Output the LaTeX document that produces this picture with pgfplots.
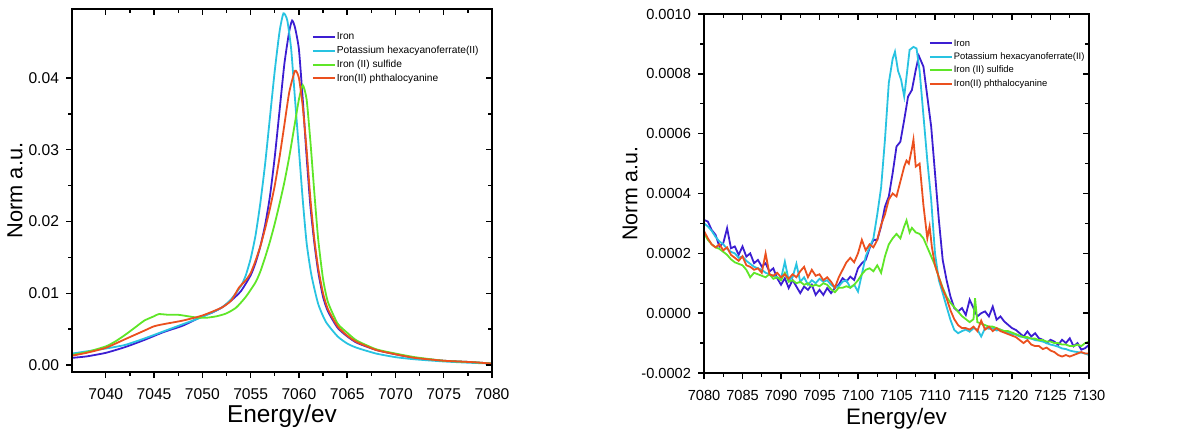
\documentclass[border=0pt]{standalone}
\usepackage{fontspec}
\setmainfont{Liberation Sans}
\usepackage{pgfplots}
\pgfplotsset{compat=1.18}
\definecolor{cIron}{RGB}{60,30,210}
\definecolor{cPot}{RGB}{40,195,225}
\definecolor{cFeS}{RGB}{95,230,40}
\definecolor{cPc}{RGB}{235,80,30}
\pgfplotsset{
  base/.style={
    scale only axis,
    scaled ticks=false,
    axis line style={line width=0.8pt},
    every tick/.style={black, line width=0.7pt},
    major tick length=3pt, minor tick length=1.8pt,
    minor tick num=1,
  },
  main/.style={
    base,
    tick align=outside, xtick pos=left, ytick pos=left,
    /pgf/number format/assume math mode=true,
    legend style={draw=none, fill=none, inner sep=0pt, outer sep=0pt, anchor=north west,
      row sep=0.75pt, nodes={inner sep=0.5pt, text height=3.9pt, text depth=1.2pt}},
    legend cell align=left,
    legend image code/.code={\draw[#1, line width=1pt] (0pt,0pt) -- (11pt,0pt);},
    every axis plot/.append style={line width=0.9pt},
  },
  mirror/.style={
    base,
    tick align=inside, xtick pos=right, ytick pos=right,
    xticklabels={}, yticklabels={},
  },
}
\begin{document}
\begin{tikzpicture}
\path[use as bounding box] (0,0) rectangle (602pt,217pt);
% ---------------- left panel ----------------
\begin{axis}[main, at={(36pt,31pt)}, anchor=south west, width=210pt, height=181.5pt,
  xmin=7036.5, xmax=7080, ymin=-0.00097, ymax=0.0496,
  xtick={7040,7045,...,7080}, xticklabels={7040,7045,7050,7055,7060,7065,7070,7075,7080},
  ytick={0,0.01,0.02,0.03,0.04}, yticklabels={0.00,0.01,0.02,0.03,0.04},
  tick label style={font=\fontsize{7.8}{9}\selectfont},
  xticklabel style={yshift=-2pt},
  xlabel={Energy/ev}, ylabel={Norm a.u.},
  xlabel style={font=\fontsize{12.2}{14}\selectfont, at={(axis description cs:0.5,-0.122)}, anchor=center},
  ylabel style={font=\fontsize{10.9}{13}\selectfont, at={(axis description cs:-0.136,0.5)}, anchor=center},
  legend style={at={(0.571,0.939)}, font=\fontsize{5.1}{6}\selectfont, row sep=0.75pt},
]
\addplot[cIron, smooth, tension=0.35] table {
x y
7036.5 0.0010
7038 0.0012
7040 0.0017
7042 0.0025
7044 0.0035
7046 0.0046
7048 0.0055
7050 0.0068
7051 0.0073
7052 0.0080
7053 0.0090
7054 0.0103
7055 0.0125
7055.5 0.0142
7056 0.0165
7056.5 0.0195
7057 0.0235
7057.5 0.0290
7058 0.0355
7058.5 0.0420
7059 0.0465
7059.3 0.0480
7059.6 0.0470
7060 0.0440
7060.4 0.0370
7060.8 0.0290
7061.2 0.0220
7061.6 0.0170
7062 0.0130
7062.5 0.0095
7063 0.0075
7064 0.0052
7065 0.0040
7066 0.0031
7068 0.0021
7070 0.0015
7072 0.0010
7075 0.0006
7078 0.0004
7080 0.0002
};
\addlegendentry{Iron}
\addplot[cPot, smooth, tension=0.35] table {
x y
7036.5 0.0016
7038 0.0019
7040 0.0023
7042 0.0028
7044 0.0037
7046 0.0047
7048 0.0057
7050 0.0067
7052 0.0080
7053 0.0092
7054 0.0110
7054.5 0.0125
7055 0.0148
7055.5 0.0180
7056 0.0225
7056.5 0.0280
7057 0.0345
7057.5 0.0410
7058 0.0465
7058.4 0.0490
7058.8 0.0480
7059.2 0.0440
7059.6 0.0370
7060 0.0300
7060.4 0.0230
7060.8 0.0170
7061.3 0.0125
7062 0.0085
7062.8 0.0060
7064 0.0040
7065 0.0030
7066 0.0024
7068 0.0016
7070 0.0011
7072 0.0008
7075 0.0005
7078 0.0003
7080 0.0002
};
\addlegendentry{Potassium hexacyanoferrate(II)}
\addplot[cFeS, smooth, tension=0.35] table {
x y
7036.5 0.0014
7038 0.0018
7040 0.0026
7041 0.0033
7042 0.0042
7043 0.0052
7044 0.0062
7045 0.0068
7045.5 0.0071
7046.5 0.0070
7047.5 0.0070
7048.5 0.0068
7049.5 0.0066
7050.5 0.0066
7051.5 0.0068
7052.5 0.0072
7053.5 0.0080
7054.5 0.0095
7055.5 0.0115
7056 0.0130
7056.5 0.0150
7057 0.0172
7057.5 0.0197
7058 0.0225
7058.5 0.0255
7059 0.0290
7059.5 0.0330
7060 0.0370
7060.4 0.0390
7060.8 0.0370
7061.2 0.0310
7061.6 0.0240
7062 0.0175
7062.5 0.0120
7063 0.0088
7064 0.0058
7065 0.0045
7066 0.0034
7068 0.0022
7070 0.0016
7072 0.0011
7075 0.0006
7078 0.0004
7080 0.0002
};
\addlegendentry{Iron (II) sulfide}
\addplot[cPc, smooth, tension=0.35] table {
x y
7036.5 0.0013
7038 0.0017
7040 0.0024
7042 0.0036
7044 0.0048
7045 0.0054
7046 0.0057
7048 0.0062
7050 0.0069
7052 0.0080
7053 0.0090
7053.8 0.0108
7054.5 0.0118
7055 0.0128
7055.5 0.0145
7056 0.0165
7056.5 0.0190
7057 0.0218
7057.5 0.0250
7058 0.0290
7058.5 0.0335
7059 0.0380
7059.6 0.0410
7060 0.0400
7060.4 0.0360
7060.8 0.0300
7061.2 0.0230
7061.6 0.0175
7062 0.0135
7062.5 0.0100
7063 0.0078
7064 0.0054
7065 0.0041
7066 0.0032
7068 0.0021
7070 0.0015
7072 0.0010
7075 0.0006
7078 0.0004
7080 0.0002
};
\addlegendentry{Iron(II) phthalocyanine}
\end{axis}
\begin{axis}[mirror, at={(36pt,31pt)}, anchor=south west, width=210pt, height=181.5pt,
  xmin=7036.5, xmax=7080, ymin=-0.00097, ymax=0.0496,
  xtick={7040,7045,...,7080}, ytick={0,0.01,0.02,0.03,0.04}]
\end{axis}
% ---------------- right panel ----------------
\begin{axis}[main, at={(352pt,30.5pt)}, anchor=south west, width=192.5pt, height=179.5pt,
  xmin=7080, xmax=7130, ymin=-0.0002, ymax=0.0010,
  xtick={7080,7085,...,7130}, xticklabels={7080,7085,7090,7095,7100,7105,7110,7115,7120,7125,7130},
  ytick={-0.0002,0,0.0002,0.0004,0.0006,0.0008,0.0010},
  yticklabels={-0.0002,0.0000,0.0002,0.0004,0.0006,0.0008,0.0010},
  tick label style={font=\fontsize{7.3}{9}\selectfont},
  xticklabel style={yshift=-2pt},
  xlabel={Energy/ev}, ylabel={Norm a.u.},
  xlabel style={font=\fontsize{11.2}{13}\selectfont, at={(axis description cs:0.5,-0.126)}, anchor=center},
  ylabel style={font=\fontsize{10.7}{13}\selectfont, at={(axis description cs:-0.192,0.5)}, anchor=center},
  legend style={at={(0.584,0.935)}, font=\fontsize{4.7}{6}\selectfont, row sep=0.6pt},
]
\addplot[cIron] table {
x y
7080 3.12e-4
7080.5 3.06e-4
7081 2.78e-4
7081.5 2.62e-4
7082 2.23e-4
7082.5 2.34e-4
7083 2.84e-4
7083.5 2.17e-4
7084 2.23e-4
7084.5 1.95e-4
7085 2.23e-4
7085.5 1.89e-4
7086 2.00e-4
7086.5 1.67e-4
7087 1.78e-4
7087.5 1.56e-4
7088 1.67e-4
7088.5 1.39e-4
7089 1.50e-4
7089.5 1.17e-4
7090 0.95e-4
7090.5 1.17e-4
7091 0.84e-4
7091.5 1.11e-4
7092 0.89e-4
7092.5 0.67e-4
7093 0.89e-4
7093.5 0.78e-4
7094 0.95e-4
7094.5 0.61e-4
7095 0.78e-4
7095.5 0.61e-4
7096 0.84e-4
7096.5 0.67e-4
7097 0.84e-4
7097.5 0.95e-4
7098 1.17e-4
7098.5 1.06e-4
7099 1.22e-4
7099.5 1.11e-4
7100 1.50e-4
7100.5 1.67e-4
7101 1.78e-4
7101.5 2.17e-4
7102 2.45e-4
7102.5 2.45e-4
7103 2.90e-4
7103.5 3.56e-4
7104 3.90e-4
7104.5 4.68e-4
7105 5.57e-4
7105.5 5.73e-4
7106 6.46e-4
7106.5 7.24e-4
7107 7.46e-4
7107.5 8.13e-4
7107.9 8.60e-4
7108.5 8.24e-4
7109 7.24e-4
7109.5 6.24e-4
7110 4.68e-4
7110.5 3.12e-4
7111 1.78e-4
7111.5 1.11e-4
7112 0.56e-4
7112.5 0.17e-4
7113 0.06e-4
7113.5 0.17e-4
7114 -0.06e-4
7114.5 0.45e-4
7115 0.17e-4
7115.5 -0.11e-4
7116 0.00e-4
7116.5 0.06e-4
7117 -0.11e-4
7117.5 0.22e-4
7118 -0.22e-4
7118.5 -0.11e-4
7119 -0.28e-4
7119.5 -0.39e-4
7120 -0.50e-4
7120.5 -0.56e-4
7121 -0.67e-4
7121.5 -0.78e-4
7122 -0.61e-4
7122.5 -0.78e-4
7123 -0.67e-4
7123.5 -0.84e-4
7124 -0.89e-4
7124.5 -1.00e-4
7125 -0.89e-4
7125.5 -0.95e-4
7126 -1.06e-4
7126.5 -0.89e-4
7127 -1.00e-4
7127.5 -0.84e-4
7128 -1.11e-4
7128.5 -1.00e-4
7129 -1.22e-4
7129.5 -1.17e-4
7130 -1.06e-4
};
\addlegendentry{Iron}
\addplot[cPot] table {
x y
7080 3.00e-4
7080.5 2.90e-4
7081 2.75e-4
7081.5 2.55e-4
7082 2.40e-4
7082.5 2.30e-4
7083 2.15e-4
7083.5 2.05e-4
7084 2.00e-4
7084.5 1.85e-4
7085 1.90e-4
7085.5 1.75e-4
7086 1.65e-4
7086.5 1.55e-4
7087 1.50e-4
7087.5 1.45e-4
7088 1.35e-4
7088.5 1.30e-4
7089 1.25e-4
7089.5 1.20e-4
7090 1.15e-4
7090.5 1.72e-4
7091 1.10e-4
7091.5 1.20e-4
7092 1.65e-4
7092.5 1.05e-4
7093 1.20e-4
7093.5 0.95e-4
7094 1.10e-4
7094.5 1.00e-4
7095 1.15e-4
7095.5 1.05e-4
7096 1.10e-4
7096.5 0.95e-4
7097 0.85e-4
7097.5 0.90e-4
7098 1.05e-4
7098.5 1.10e-4
7099 0.85e-4
7099.5 0.95e-4
7100 0.72e-4
7100.5 1.30e-4
7101 1.90e-4
7101.5 2.20e-4
7102 2.50e-4
7102.5 3.30e-4
7103 4.20e-4
7103.5 5.80e-4
7104 7.70e-4
7104.5 8.50e-4
7104.8 8.74e-4
7105.2 8.10e-4
7105.6 7.80e-4
7106 7.24e-4
7106.3 7.90e-4
7106.7 8.80e-4
7107.2 8.90e-4
7107.6 8.85e-4
7108 8.10e-4
7108.5 6.60e-4
7109 5.10e-4
7109.5 3.80e-4
7110 2.00e-4
7110.5 1.10e-4
7111 0.67e-4
7111.5 0.22e-4
7112 -0.22e-4
7112.5 -0.56e-4
7113 -0.67e-4
7113.5 -0.60e-4
7114 -0.55e-4
7114.5 -0.62e-4
7115 -0.50e-4
7115.5 -0.55e-4
7116 -0.78e-4
7116.5 -0.50e-4
7117 -0.52e-4
7117.5 -0.50e-4
7118 -0.58e-4
7118.5 -0.55e-4
7119 -0.62e-4
7119.5 -0.65e-4
7120 -0.70e-4
7120.5 -0.72e-4
7121 -0.78e-4
7121.5 -0.80e-4
7122 -0.85e-4
7122.5 -0.85e-4
7123 -0.90e-4
7123.5 -0.92e-4
7124 -0.95e-4
7124.5 -1.00e-4
7125 -1.05e-4
7125.5 -1.08e-4
7126 -1.12e-4
7126.5 -1.18e-4
7127 -1.20e-4
7127.5 -1.25e-4
7128 -1.28e-4
7128.5 -1.30e-4
7129 -1.32e-4
7129.5 -1.35e-4
7130 -1.40e-4
};
\addlegendentry{Potassium hexacyanoferrate(II)}
\addplot[cFeS] table {
x y
7080 2.67e-4
7080.5 2.45e-4
7081 2.30e-4
7081.5 2.20e-4
7082 2.15e-4
7082.5 2.05e-4
7083 1.95e-4
7083.5 1.80e-4
7084 1.70e-4
7084.5 1.65e-4
7085 1.60e-4
7085.5 1.45e-4
7086 1.20e-4
7086.5 1.35e-4
7087 1.30e-4
7087.5 1.25e-4
7088 1.20e-4
7088.5 1.30e-4
7089 1.15e-4
7089.5 1.20e-4
7090 1.10e-4
7090.5 1.35e-4
7091 1.05e-4
7091.5 1.10e-4
7092 1.00e-4
7092.5 1.05e-4
7093 0.95e-4
7093.5 1.00e-4
7094 0.90e-4
7094.5 0.95e-4
7095 0.90e-4
7095.5 1.00e-4
7096 0.95e-4
7096.5 0.80e-4
7097 0.70e-4
7097.5 0.85e-4
7098 0.85e-4
7098.5 0.90e-4
7099 0.85e-4
7099.5 0.95e-4
7100 1.10e-4
7100.5 1.30e-4
7101 1.45e-4
7101.5 1.50e-4
7102 1.40e-4
7102.5 1.60e-4
7103 1.35e-4
7103.5 1.90e-4
7104 2.30e-4
7104.5 2.50e-4
7105 2.65e-4
7105.5 2.50e-4
7106 2.90e-4
7106.3 3.10e-4
7106.7 2.70e-4
7107 2.85e-4
7107.5 2.70e-4
7108 2.65e-4
7108.5 2.50e-4
7109 2.20e-4
7109.5 1.90e-4
7110 1.60e-4
7110.5 1.20e-4
7111 0.85e-4
7111.5 0.55e-4
7112 0.35e-4
7112.5 0.20e-4
7113 0.05e-4
7113.5 -0.10e-4
7114 -0.20e-4
7114.5 -0.30e-4
7115 -0.20e-4
7115.2 0.50e-4
7115.5 -0.30e-4
7116 -0.35e-4
7116.5 -0.40e-4
7117 -0.45e-4
7117.5 -0.45e-4
7118 -0.50e-4
7118.5 -0.55e-4
7119 -0.60e-4
7119.5 -0.60e-4
7120 -0.65e-4
7120.5 -0.70e-4
7121 -0.75e-4
7121.5 -0.80e-4
7122 -0.80e-4
7122.5 -0.85e-4
7123 -0.85e-4
7123.5 -0.90e-4
7124 -0.90e-4
7124.5 -0.95e-4
7125 -0.95e-4
7125.5 -1.00e-4
7126 -1.00e-4
7126.5 -1.05e-4
7127 -1.05e-4
7127.5 -1.10e-4
7128 -1.10e-4
7128.5 -1.05e-4
7129 -1.10e-4
7129.5 -1.00e-4
7130 -0.95e-4
};
\addlegendentry{Iron (II) sulfide}
\addplot[cPc] table {
x y
7080 2.75e-4
7080.5 2.50e-4
7081 2.30e-4
7081.5 2.20e-4
7082 2.30e-4
7082.5 2.10e-4
7083 2.20e-4
7083.5 1.95e-4
7084 1.85e-4
7084.5 1.75e-4
7085 1.90e-4
7085.5 1.60e-4
7086 1.55e-4
7086.5 1.45e-4
7087 1.50e-4
7087.5 1.35e-4
7088 2.00e-4
7088.5 1.30e-4
7089 1.25e-4
7089.5 1.35e-4
7090 1.20e-4
7090.5 1.30e-4
7091 1.15e-4
7091.5 1.30e-4
7092 1.20e-4
7092.5 1.40e-4
7093 1.55e-4
7093.5 1.20e-4
7094 1.45e-4
7094.5 1.25e-4
7095 1.30e-4
7095.5 1.10e-4
7096 1.20e-4
7096.5 1.05e-4
7097 0.85e-4
7097.5 1.20e-4
7098 1.45e-4
7098.5 1.70e-4
7099 1.85e-4
7099.5 1.70e-4
7100 2.00e-4
7100.5 2.45e-4
7101 2.10e-4
7101.5 2.30e-4
7102 2.20e-4
7102.5 2.45e-4
7103 2.95e-4
7103.5 3.30e-4
7104 3.80e-4
7104.5 4.00e-4
7105 3.90e-4
7105.5 4.40e-4
7106 4.90e-4
7106.3 5.10e-4
7106.6 5.00e-4
7107 5.50e-4
7107.2 5.80e-4
7107.5 4.90e-4
7108 5.00e-4
7108.5 3.60e-4
7109 2.50e-4
7109.3 2.90e-4
7109.6 2.20e-4
7110 1.60e-4
7110.5 1.20e-4
7111 0.80e-4
7111.5 0.50e-4
7112 0.10e-4
7112.5 -0.20e-4
7113 -0.40e-4
7113.5 -0.50e-4
7114 -0.50e-4
7114.5 -0.55e-4
7115 -0.45e-4
7115.5 -0.60e-4
7116 -0.25e-4
7116.5 -0.55e-4
7117 -0.45e-4
7117.5 -0.60e-4
7118 -0.50e-4
7118.5 -0.60e-4
7119 -0.65e-4
7119.5 -0.70e-4
7120 -0.75e-4
7120.5 -0.80e-4
7121 -0.90e-4
7121.5 -1.00e-4
7122 -0.90e-4
7122.5 -1.05e-4
7123 -1.10e-4
7123.5 -1.10e-4
7124 -1.20e-4
7124.5 -1.15e-4
7125 -1.25e-4
7125.5 -1.30e-4
7126 -1.40e-4
7126.5 -1.45e-4
7127 -1.40e-4
7127.5 -1.45e-4
7128 -1.40e-4
7128.5 -1.35e-4
7129 -1.30e-4
7129.5 -1.35e-4
7130 -1.35e-4
};
\addlegendentry{Iron(II) phthalocyanine}
\end{axis}
\begin{axis}[mirror, at={(352pt,30.5pt)}, anchor=south west, width=192.5pt, height=179.5pt,
  xmin=7080, xmax=7130, ymin=-0.0002, ymax=0.0010,
  xtick={7080,7085,...,7130}, ytick={-0.0002,0,0.0002,0.0004,0.0006,0.0008,0.0010}]
\end{axis}
\end{tikzpicture}
\end{document}
